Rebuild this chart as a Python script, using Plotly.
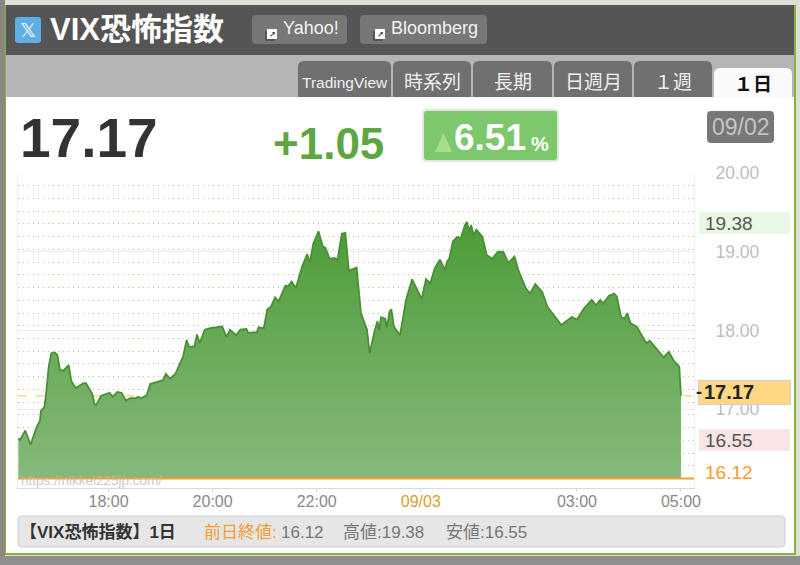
import pandas as pd
import plotly.graph_objects as go

# minutes after 16:15 on 09/02
minutes = [1,3,9,15,22,26,27,31,33,36,39,43,46,49,53,59,62,67,76,79,86,89,91,96,106,110,115,120,125,130,136,139,143,149,153,161,168,171,176,182,191,195,198,204,207,210,216,222,236,241,245,252,257,264,266,276,278,284,288,292,297,301,309,312,316,321,328,334,337,341,347,352,355,360,365,369,374,378,382,391,396,403,406,411,415,417,419,424,426,429,431,434,441,444,448,455,466,471,476,481,487,493,495,498,502,507,511,516,518,521,523,526,529,536,541,547,554,560,566,573,578,586,591,597,605,611,618,627,639,645,653,662,667,672,675,682,688,691,696,700,703,707,714,725,729,737,745,751,757,763,765]
vix = [16.63,16.61,16.73,16.55,16.77,16.86,16.98,17.03,17.20,17.54,17.71,17.72,17.69,17.50,17.49,17.56,17.36,17.27,17.33,17.33,17.20,17.06,17.06,17.17,17.21,17.16,17.22,17.21,17.11,17.14,17.14,17.16,17.14,17.18,17.32,17.35,17.37,17.45,17.39,17.45,17.67,17.88,17.79,17.80,17.95,17.84,18.01,18.03,18.05,17.92,18.01,17.94,18.01,18.02,17.97,17.98,18.04,18.03,18.27,18.30,18.42,18.37,18.57,18.56,18.62,18.54,18.81,18.97,18.86,19.10,19.26,19.07,19.05,18.91,18.92,18.90,19.23,19.24,18.76,18.80,18.22,18.01,17.71,17.96,18.12,18.00,18.17,18.15,18.04,18.24,18.27,18.05,17.94,18.13,18.39,18.65,18.40,18.65,18.60,18.79,18.90,18.77,18.87,18.92,19.13,19.19,19.17,19.34,19.38,19.26,19.34,19.21,19.28,19.19,18.96,18.91,19.00,19.00,18.86,18.94,18.75,18.54,18.47,18.59,18.49,18.30,18.20,18.07,18.17,18.14,18.28,18.39,18.32,18.39,18.34,18.44,18.47,18.43,18.17,18.15,18.22,18.09,18.05,17.84,17.87,17.76,17.66,17.73,17.61,17.54,17.17]
prev_close = 16.12
last_value = 17.17
high_value = 19.38
low_value = 16.55
x_tick_times = ["2025-09-02 18:00","2025-09-02 20:00","2025-09-02 22:00","2025-09-03 00:00","2025-09-03 03:00","2025-09-03 05:00"]
x_tick_text = ["18:00","20:00","22:00","<span style='color:#d9a030'>09/03</span>","03:00","05:00"]
y_ticks = [17,18,19,20]
y_tick_text = ["17.00","18.00","19.00","20.00"]
tabs = ["TradingView","時系列","長期","日週月","１週"]

start = pd.Timestamp("2025-09-02 16:15")
times = [start + pd.Timedelta(minutes=m) for m in minutes]
x0, x1 = pd.Timestamp("2025-09-02 16:15"), pd.Timestamp("2025-09-03 05:15")

W, H = 800, 565
FONT = "Liberation Sans, Noto Sans CJK JP, sans-serif"
px = lambda v: v / W
py = lambda v: 1 - v / H
shapes, notes = [], []

def rr(l, t, r, b, fill, rad=4, line=None, lw=1, layer="below", corners="all"):
    L, T, R, B = px(l), py(t), px(r), py(b)
    dx, dy = rad / W, rad / H
    if corners == "top":
        p = f"M{L},{B} L{L},{T-dy} Q{L},{T} {L+dx},{T} L{R-dx},{T} Q{R},{T} {R},{T-dy} L{R},{B} Z"
    else:
        p = (f"M{L+dx},{B} Q{L},{B} {L},{B+dy} L{L},{T-dy} Q{L},{T} {L+dx},{T} L{R-dx},{T} "
             f"Q{R},{T} {R},{T-dy} L{R},{B+dy} Q{R},{B} {R-dx},{B} Z")
    shapes.append(dict(type="path", xref="paper", yref="paper", path=p, fillcolor=fill,
                       line=dict(color=line or fill, width=lw if line else 0), layer=layer))

def txt(x, y, s, size, color, anchor="left", bold=False, family=FONT):
    if anchor == "left":
        x -= 2
    notes.append(dict(xref="paper", yref="paper", x=px(x), y=py(y), xanchor=anchor, yanchor="middle",
                      text=f"<b>{s}</b>" if bold else s, showarrow=False,
                      font=dict(size=size, color=color, family=family)))

# page and frame
rr(0, 0, 800, 565, "#dfded9", 0)
rr(0, 0, 5, 565, "#8c8880", 0)
rr(0, 556, 800, 565, "#8f8f8f", 0)
rr(5, 5, 796, 555, "#84b53a", 0)
rr(6, 5, 794, 553, "#ffffff", 0)
rr(6, 5, 794, 55, "#555555", 0)
rr(6, 55, 794, 97, "#b5b5b5", 0)

# header
rr(15, 17, 41, 43, "#5fafe6", 3)
txt(28, 30, "𝕏", 20, "#ffffff", "center", family="DejaVu Sans")
txt(50, 30, "VIX恐怖指数", 31, "#ffffff", bold=True)
for l, r, name, tx in [(252, 347, "Yahoo!", 283), (360, 487, "Bloomberg", 391)]:
    rr(l, 15, r, 44, "#777777", 4)
    rr(tx - 18, 31, tx - 8, 41, "#555555", 0)
    rr(tx - 16, 29, tx - 6, 39, "#ffffff", 0)
    txt(tx - 11, 34, "↗", 8, "#444444", "center", bold=True, family="DejaVu Sans")
    txt(tx, 28, name, 18, "#f2f2f2")

# tabs
for (l, r), name in zip([(298, 391), (393, 471), (473, 552), (554, 632), (634, 712)], tabs):
    rr(l, 61, r, 97, "#707070", 6, corners="top")
    txt((l + r) / 2, 82, name, 15.5 if name == "TradingView" else 19, "#f0f0f0", "center")
rr(714, 68, 792, 98, "#fafafa", 6, corners="top")
txt(753, 84, "１日", 19, "#111111", "center", bold=True)

# headline figures
txt(20, 138, f"{last_value:.2f}", 55, "#333333", bold=True)
txt(273, 143, "+1.05", 44, "#5ea642", bold=True)
rr(423, 110, 558, 161, "#7dc76c", 4, line="#dfe8dc", lw=2)
shapes.append(dict(type="path", xref="paper", yref="paper",
                   path=f"M{px(435)},{py(152)} L{px(443.5)},{py(133)} L{px(452)},{py(152)} Z",
                   fillcolor="#a5dc8e", line=dict(width=0)))
txt(454, 137, "6.51", 37, "#ffffff", bold=True)
txt(531, 144, "%", 20, "#ffffff", bold=True)
rr(707, 111, 774, 143, "#777777", 4)
txt(740.5, 127, "09/02", 23, "#c4c4c4", "center")

# value labels right of the plot
rr(699, 212, 790, 234, "#e8f8e4", 0)
txt(705, 223, f"{high_value:.2f}", 19, "#555555")
rr(698, 380, 791, 405, "#cfcfcf", 0, layer="above")
rr(699, 381, 790, 404, "#fdd784", 0, layer="above")
txt(696, 392, "-", 18, "#222222", bold=True)
txt(704, 392, f"{last_value:.2f}", 20, "#222222", bold=True)
rr(699, 429, 790, 451, "#fae5e5", 0)
txt(705, 441, f"{low_value:.2f}", 19, "#555555")
txt(705, 473, f"{prev_close:.2f}", 19, "#f59c33")

# footer bar
rr(18, 516, 785, 547, "#e6e6e6", 4, line="#cfcfcf")
txt(20, 532, "【VIX恐怖指数】1日", 17, "#333333", bold=True)
txt(204, 532, "前日終値:", 17, "#f59c33")
txt(281, 532, f"{prev_close:.2f}", 17, "#777777")
txt(343, 532, f"高値:{high_value:.2f}", 17, "#777777")
txt(446, 532, f"安値:{low_value:.2f}", 17, "#777777")
txt(21, 480, "https://nikkei225jp.com/", 13.5, "rgba(190,190,190,0.85)")

fig = go.Figure()
fig.add_trace(go.Scatter(x=[x0, x1], y=[last_value, last_value], mode="lines",
                         line=dict(color="#fdd784", width=1.5, dash="dash"), hoverinfo="skip"))
fig.add_trace(go.Scatter(x=[times[0], times[-1]], y=[prev_close, prev_close], mode="lines",
                         line=dict(width=0), hoverinfo="skip"))
fig.add_trace(go.Scatter(x=times, y=vix, mode="lines", fill="tonexty",
                         line=dict(color="#4a8f35", width=1.8),
                         fillgradient=dict(type="vertical", start=prev_close, stop=high_value,
                                           colorscale=[[0, "#86b97b"], [1, "#4d9c38"]])))
fig.add_trace(go.Scatter(x=[x0, x1], y=[prev_close, prev_close], mode="lines",
                         line=dict(color="#f59c33", width=2), hoverinfo="skip"))

fig.update_layout(
    width=W, height=H, margin=dict(l=0, r=0, t=0, b=0), showlegend=False,
    paper_bgcolor="#ffffff", plot_bgcolor="rgba(0,0,0,0)",
    font=dict(family=FONT), shapes=shapes, annotations=notes,
    xaxis=dict(domain=[px(17.5), px(694)], range=[x0, x1], type="date", automargin=False,
               tickmode="array", tickvals=x_tick_times, ticktext=x_tick_text,
               tickfont=dict(size=16, color="#888888"), ticks="outside", ticklen=3,
               ticklabelstandoff=-4,
               tickcolor="#cfdcea", showgrid=False, showline=True, linecolor="#cfdcea", linewidth=1,
               zeroline=False),
    yaxis=dict(domain=[py(488), py(173)], range=[16, 20], side="right", automargin=False,
               tickmode="array", tickvals=y_ticks, ticktext=y_tick_text,
               tickfont=dict(size=17.5, color="#bdbdbd"), ticks="", ticklabelstandoff=17,
               showgrid=True, gridcolor="#ebebeb", gridwidth=1, zeroline=False,
               showline=True, linecolor="#eeeeee", mirror=True,
               minor=dict(showgrid=True, tick0=prev_close, dtick=(20 - prev_close) / 24,
                          gridcolor="#a5cc95", griddash="1px,4px", gridwidth=1)),
)
fig.write_html("out.html", config=dict(displayModeBar=False),
               post_script="document.body.style.margin='0';")
